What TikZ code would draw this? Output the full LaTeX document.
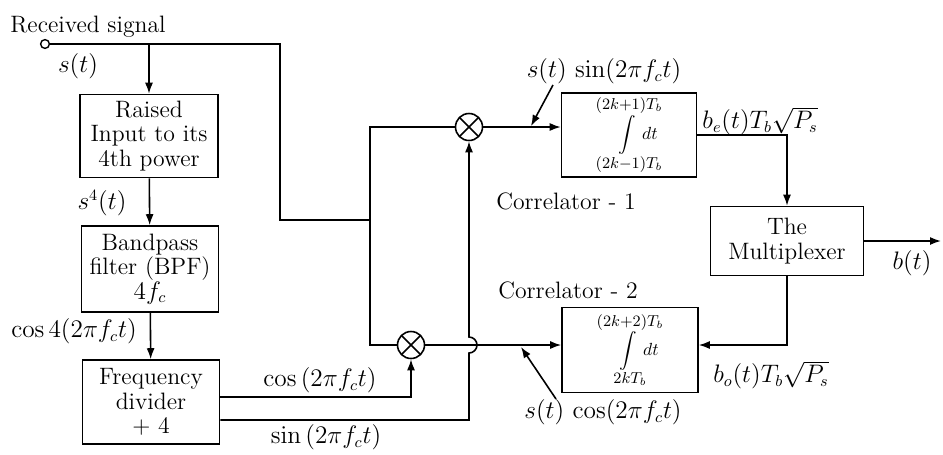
\documentclass[tikz,border=0pt]{standalone}
\usepackage{amsmath,amssymb,mathtools}
\usepackage{tikz}
\usetikzlibrary{arrows.meta,positioning,calc}

\tikzset{
  blk/.style={draw, line width=0.9pt, align=center, inner sep=2pt},
  intblk/.style={blk, inner sep=0pt, font=\fontsize{9}{10}\selectfont},
  mixer/.style={draw, circle, line width=0.9pt, minimum size=0.54cm, inner sep=0pt,
    path picture={\draw[line width=0.9pt]
      (path picture bounding box.north west) -- (path picture bounding box.south east)
      (path picture bounding box.north east) -- (path picture bounding box.south west);}},
  lbl/.style={inner sep=1pt},
}
\newcommand{\corrint}[2]{$#2$\\[0pt]{\fontsize{10}{11}\selectfont$\displaystyle\int\mathrlap{\,dt}$}\\[0pt]$#1$}

\begin{document}
\begin{tikzpicture}[x=0.02cm, y=-0.02cm, line width=0.9pt,
  >={Latex[length=2.2mm,width=1.6mm]}, font=\fontsize{13.5}{13.8}\selectfont]
\useasboundingbox (0,0) rectangle (943,454);
% blocks
\node[blk, minimum width=2.76cm, minimum height=1.66cm] (raise) at (149,136) {Raised\\Input to its\\4th power};
\node[blk, minimum width=2.74cm, minimum height=1.72cm] (bpf) at (150,269) {Bandpass\\filter (BPF)\\$4f_c$};
\node[blk, minimum width=2.74cm, minimum height=1.68cm] (fdiv) at (151,402) {Frequency\\divider\\+ 4};
\node[intblk, minimum width=2.70cm, minimum height=1.68cm] (corr1) at (629,135) {\corrint{(2k{-}1)T_b}{(2k{+}1)T_b}};
\node[intblk, minimum width=2.72cm, minimum height=1.70cm] (corr2) at (630,350) {\corrint{2kT_b}{(2k{+}2)T_b}};
\node[blk, minimum width=3.06cm, minimum height=1.38cm] (mux) at (787,241) {The\\Multiplexer};
\node[mixer] (mix1) at (469,127) {};
\node[mixer] (mix2) at (411,345) {};
\node[draw, circle, inner sep=0pt, minimum size=5pt, line width=0.8pt] (in) at (45,44) {};
\coordinate (sp) at (280,44);
\coordinate (bus) at (370,220);
\coordinate (out) at (941,241);
\coordinate (psin) at (531,126);
\coordinate (pcos) at (521,347);
% labels
\node[lbl] (lrx) at (88,27) {Received signal};
\node[lbl] (ls) at (78,66) {$s(t)$};
\node[lbl] (ls4) at (102,203) {$s^4(t)$};
\node[lbl] (lc4) at (74,331) {$\cos 4(2\pi f_c t)$};
\node[lbl] (lcw) at (320,380) {$\cos\,(2\pi f_c t)$};
\node[lbl] (lsw) at (326,437) {$\sin\,(2\pi f_c t)$};
\node[lbl] (lsin) at (604,71) {$s(t)\,\sin(2\pi f_c t)$};
\node[lbl] (lcos) at (603,412) {$s(t)\,\cos(2\pi f_c t)$};
\node[lbl] (lk1) at (566,201) {Correlator - 1};
\node[lbl] (lk2) at (568,290) {Correlator - 2};
\node[lbl] (lbe) at (760,121) {$b_e(t)T_b\sqrt{P_s}$};
\node[lbl] (lbo) at (771,375) {$b_o(t)T_b\sqrt{P_s}$};
\node[lbl] (lb) at (912,263) {$b(t)$};
% fourth-power branch
\draw (in) -- (sp) |- (bus);
\draw[->] (raise.north |- in) -- (raise.north);
\draw[->] (raise) -- (bpf);
\draw[->] (bpf) -- (fdiv);
% mixers
\draw (mix1) -| (bus) |- (mix2);
\draw[->] ($(fdiv.east)+(0,-5)$) -| (mix2);
\draw[->] ($(fdiv.east)+(0,18)$) -| ($(mix1 |- mix2)+(0,8)$)
  arc[start angle=-90, end angle=90, radius=0.16cm] -- (mix1);
% correlators and multiplexer
\draw[->] (mix1) -- (corr1.west |- mix1);
\draw[->] (mix2) -- (corr2.west |- mix2);
\draw[->] (corr1) -| (mux);
\draw[->] (mux) |- (corr2.east |- mix2);
\draw[->] (mux) -- (mux -| out);
% pointers
\draw[->] ($(lsin.center)+(-51,14)$) -- (psin);
\draw[->] ($(lcos.center)+(-47,-13)$) -- (pcos);
\end{tikzpicture}
\end{document}
